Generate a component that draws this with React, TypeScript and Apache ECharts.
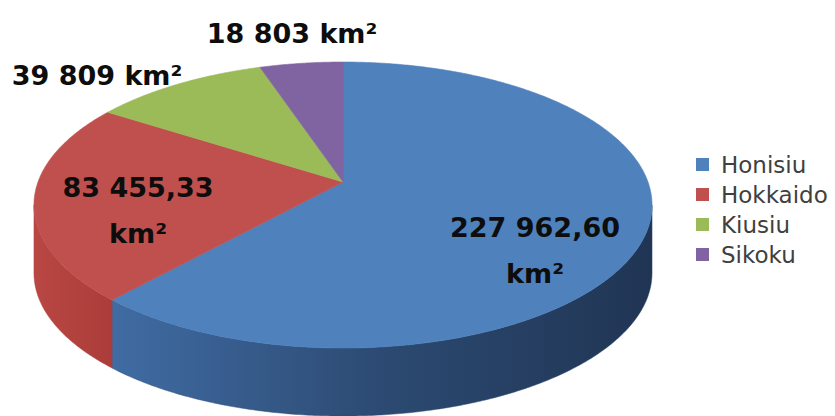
import React, { useEffect, useRef } from "react";
import * as echarts from "echarts";

// ---- data ----
const categories = ["Honisiu", "Hokkaido", "Kiusiu", "Sikoku"];
const areas = [227962.6, 83455.33, 39809, 18803];
const unit = "km²";

// ---- styles / layout (not data) ----
const topColors = ["#4f81bd", "#c0504d", "#9bbb59", "#8064a2"];
const wallStops = [
  ["#406ca3", "#2c4a72", "#203554"],
  ["#b94743", "#b2423e", "#aa3c39"],
  ["#86a34a", "#7c9843", "#718b3c"],
  ["#6b5289", "#624a7e", "#584272"],
];
const labelAnchors = [
  [535, 250],
  [138, 210],
  [97, 75],
  [292, 33],
];
const labelWrap = [true, true, false, false];

// 3D pie projection parameters
const CX = 343;
const CY = 182;
const RA = 139.3; // vertical semi-axis factor
const RB = 305; // horizontal semi-axis factor
const PERSP = 0.161;
const DEPTH = 68;

function proj(theta: number, drop = 0): number[] {
  const u = Math.sin(theta);
  const v = -Math.cos(theta);
  const s = 1 / (1 - PERSP * v);
  return [CX + RB * u * s, CY + RA * v * s + drop];
}

function fmt(v: number): string {
  const fixed = Number.isInteger(v) ? String(v) : v.toFixed(2);
  const [ip, dp] = fixed.split(".");
  const grouped = ip.replace(/\B(?=(\d{3})+(?!\d))/g, " ");
  return dp ? grouped + "," + dp : grouped;
}

export default function App() {
  const ref = useRef<HTMLDivElement>(null);
  useEffect(() => {
    if (!ref.current) return;
    const chart = echarts.init(ref.current, null, { renderer: "svg" });
    const total = areas.reduce((a, b) => a + b, 0);
    const cum: number[] = [0];
    areas.forEach((v, i) => cum.push(cum[i] + v));
    const thL = Math.acos(-PERSP);
    const thR = 2 * Math.PI - thL;

    const renderItem = (params: any, api: any) => {
      const i = params.dataIndex;
      const start = (cum[i] / total) * 2 * Math.PI;
      const end = ((cum[i] + api.value(0)) / total) * 2 * Math.PI;
      const step = Math.PI / 360;
      const children: any[] = [];

      // side wall (visible front part only)
      const lo = Math.max(start, thL);
      const hi = Math.min(end, thR);
      if (hi > lo) {
        const n = Math.max(2, Math.ceil((hi - lo) / step));
        const topArc: number[][] = [];
        const botArc: number[][] = [];
        for (let k = 0; k <= n; k++) {
          const t = lo + ((hi - lo) * k) / n;
          topArc.push(proj(t));
          botArc.push(proj(t, DEPTH));
        }
        const pts = topArc.concat(botArc.reverse());
        const stops = wallStops[i];
        children.push({
          type: "polygon",
          shape: { points: pts },
          style: {
            fill: {
              type: "linear",
              x: 0,
              y: 0,
              x2: 1,
              y2: 0,
              colorStops: [
                { offset: 0, color: stops[0] },
                { offset: 0.5, color: stops[1] },
                { offset: 1, color: stops[2] },
              ],
            },
            stroke: stops[1],
            lineWidth: 0.5,
          },
        });
      }

      // top face
      const n2 = Math.max(2, Math.ceil((end - start) / step));
      const face: number[][] = [[CX, CY]];
      for (let k = 0; k <= n2; k++) {
        face.push(proj(start + ((end - start) * k) / n2));
      }
      children.push({
        type: "polygon",
        shape: { points: face },
        style: { fill: topColors[i], stroke: topColors[i], lineWidth: 0.6 },
      });

      // label
      const txt = fmt(api.value(0)) + (labelWrap[i] ? "\n" : " ") + unit;
      children.push({
        type: "text",
        x: labelAnchors[i][0],
        y: labelAnchors[i][1],
        style: {
          text: txt,
          fontFamily: "DejaVu Sans",
          fontWeight: "bold",
          fontSize: 27,
          lineHeight: 46,
          fill: "#0d0d0d",
          align: "center",
          verticalAlign: "middle",
        },
      });

      return { type: "group", children };
    };

    chart.setOption({
      animation: false,
      legend: {
        orient: "vertical",
        left: 696,
        top: 153,
        padding: 0,
        itemWidth: 13,
        itemHeight: 13,
        itemGap: 7,
        icon: "rect",
        selectedMode: false,
        data: categories,
        textStyle: {
          fontFamily: "DejaVu Sans",
          fontSize: 23,
          lineHeight: 23,
          color: "#404040",
          padding: [0, 0, 0, 7],
        },
      },
      series: [
        {
          type: "custom",
          coordinateSystem: "none",
          silent: true,
          renderItem,
          data: areas.map((v, i) => ({ name: categories[i], value: [v] })),
        },
        {
          type: "pie",
          radius: [0, 0],
          center: [-50, -50],
          silent: true,
          label: { show: false },
          labelLine: { show: false },
          data: areas.map((v, i) => ({
            name: categories[i],
            value: v,
            itemStyle: { color: topColors[i] },
          })),
        },
      ],
    });
    return () => chart.dispose();
  }, []);
  return (
    <div
      ref={ref}
      style={{ position: "fixed", left: 0, top: 0, width: 835, height: 416, background: "#fff" }}
    />
  );
}
